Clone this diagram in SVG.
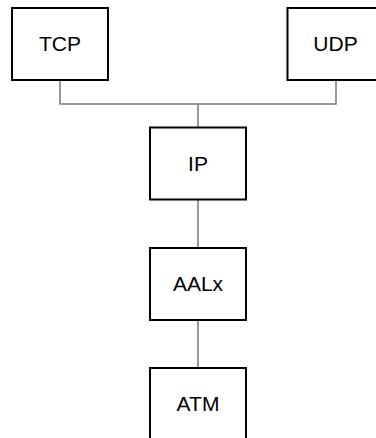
<svg xmlns="http://www.w3.org/2000/svg" width="376" height="438" viewBox="0 0 376 438">
<style>
.box{fill:#fff;stroke:#000;stroke-width:2}
.lbl{font-family:"Liberation Sans",Arial,sans-serif;font-size:21px;fill:#000;text-anchor:middle}
.conn{fill:none;stroke:#777;stroke-width:1.5}
</style>
<rect width="376" height="438" fill="#fff"/>
<g id="connectors">
<polyline class="conn" points="60,80 60,104 336,104 336,80"/>
<line class="conn" x1="198" y1="104" x2="198" y2="127.5"/>
<line class="conn" x1="198" y1="199.5" x2="198" y2="248"/>
<line class="conn" x1="198" y1="320" x2="198" y2="368"/>
</g>
<g id="tcp"><rect class="box" x="12" y="8" width="96" height="72"/><text class="lbl" x="60" y="51">TCP</text></g>
<g id="udp"><rect class="box" x="287.5" y="8" width="96" height="72"/><text class="lbl" x="335.5" y="51">UDP</text></g>
<g id="ip"><rect class="box" x="150" y="127.5" width="96" height="72"/><text class="lbl" x="198" y="170.5">IP</text></g>
<g id="aalx"><rect class="box" x="150" y="248" width="96" height="72"/><text class="lbl" x="198" y="291">AALx</text></g>
<g id="atm"><rect class="box" x="150" y="368" width="96" height="72"/><text class="lbl" x="198" y="411">ATM</text></g>
</svg>
